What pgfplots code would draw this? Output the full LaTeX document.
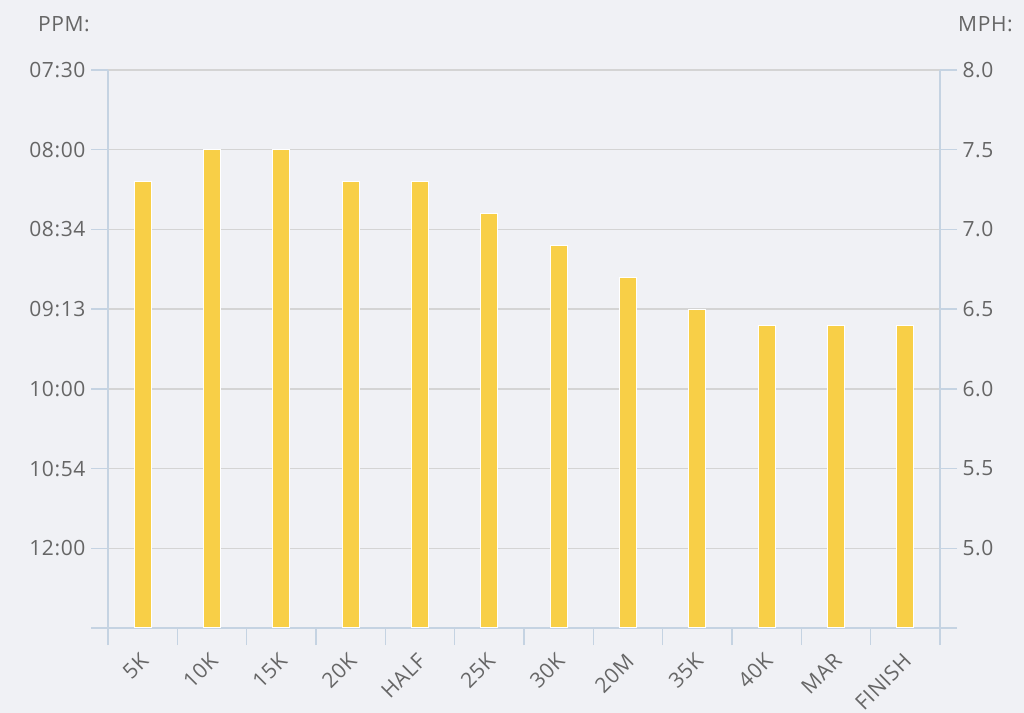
\documentclass[border=0pt]{standalone}
\usepackage{pgfplots}
\pgfplotsset{compat=1.18}
\usepackage{fontspec}
\setmainfont{Open Sans}[LetterSpace=3]
\definecolor{bg}{HTML}{F0F1F5}
\definecolor{barc}{HTML}{F8CF47}
\definecolor{axc}{HTML}{C5D3E2}
\definecolor{gridc}{HTML}{D4D4D4}
\definecolor{txt}{HTML}{666666}
\newcommand{\tf}{\fontsize{21bp}{25bp}\selectfont}
\begin{document}
\begin{tikzpicture}
\fill[bg] (0,0) rectangle (1024bp,713bp);
\useasboundingbox (0,0) rectangle (1024bp,713bp);
\begin{axis}[
  at={(108bp,85bp)}, anchor=south west, scale only axis,
  width=832bp, height=558bp,
  xmin=-0.5, xmax=11.5, ymin=4.5, ymax=8,
  axis x line*=bottom, axis y line*=left,
  axis line style={draw=axc, line width=1.3bp, -},
  xtick={0,...,11},
  xticklabels={5K,10K,15K,20K,HALF,25K,30K,20M,35K,40K,MAR,FINISH},
  minor xtick={-0.5,0.5,...,11.5},
  major x tick style={draw=none},
  minor tick length=17bp, major tick length=17bp,
  tick align=outside,
  every tick/.style={draw=axc, line width=1.3bp},
  xticklabel style={rotate=45, anchor=north east, font=\tf, text=txt, xshift=-4bp, yshift=1bp},
  ytick={4.5,5,5.5,6,6.5,7,7.5,8},
  yticklabels={,12:00,10:54,10:00,09:13,08:34,08:00,07:30},
  yticklabel style={font=\tf, text=txt, xshift=-2bp},
  ymajorgrids, grid style={draw=gridc, line width=1.3bp},
  ybar, bar width=17bp,
]
\addplot[fill=barc, draw=white, line width=1bp] coordinates {
 (0,7.3) (1,7.5) (2,7.5) (3,7.3) (4,7.3) (5,7.1) (6,6.9) (7,6.7) (8,6.5) (9,6.4) (10,6.4) (11,6.4)};
\end{axis}
\begin{axis}[
  at={(108bp,85bp)}, anchor=south west, scale only axis,
  width=832bp, height=558bp,
  xmin=-0.5, xmax=11.5, ymin=4.5, ymax=8,
  hide x axis, axis y line*=right,
  axis line style={draw=axc, line width=1.3bp, -},
  major tick length=17bp, tick align=outside,
  every tick/.style={draw=axc, line width=1.3bp},
  ytick={4.5,5,5.5,6,6.5,7,7.5,8},
  yticklabels={,5.0,5.5,6.0,6.5,7.0,7.5,8.0},
  yticklabel style={font=\tf, text=txt, xshift=2bp},
]
\end{axis}
\node[anchor=base east, text=txt, font=\tf, inner sep=0] at (90bp,681bp) {PPM:};
\node[anchor=base west, text=txt, font=\tf, inner sep=0] at (958bp,681bp) {MPH:};
\end{tikzpicture}
\end{document}
